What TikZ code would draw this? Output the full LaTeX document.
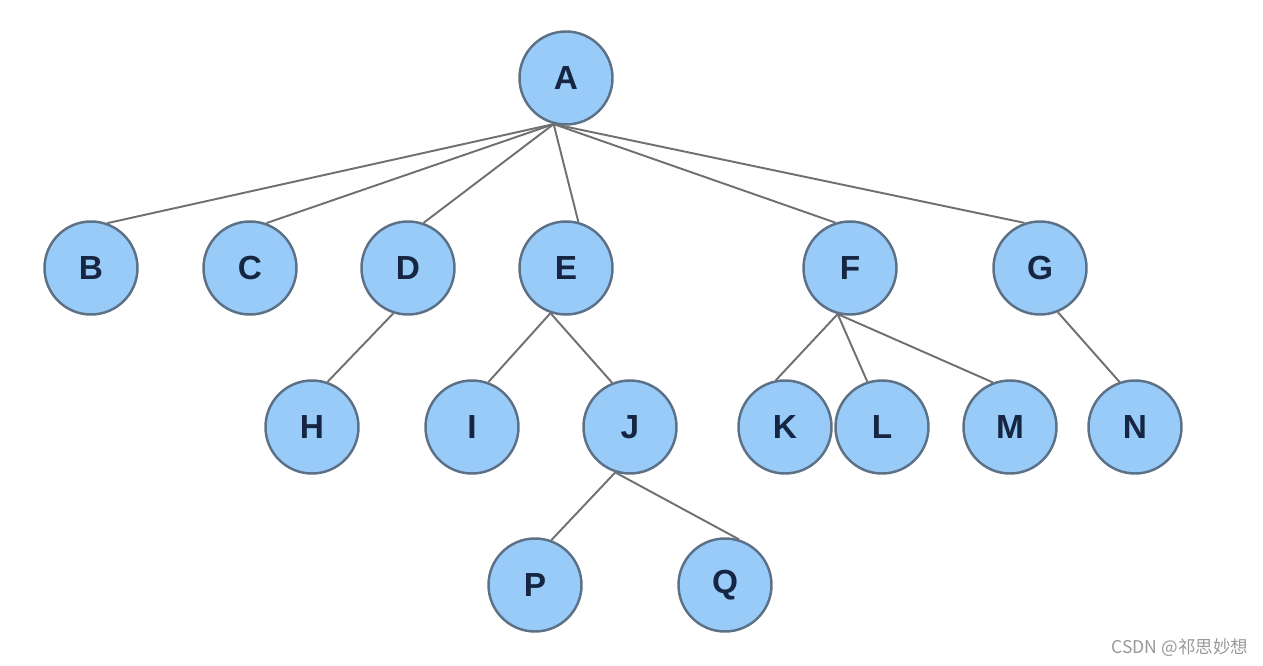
\documentclass[tikz,border=0pt]{standalone}
\usepackage{fontspec}
\setmainfont{Liberation Sans}
\newfontfamily\cjk{Noto Sans CJK SC}
\definecolor{knotfill}{RGB}{153,203,249}
\definecolor{knotline}{RGB}{92,112,134}
\definecolor{knottext}{RGB}{22,38,66}
\definecolor{edgegray}{RGB}{112,112,112}
\tikzset{
	knot/.style={circle, draw=knotline, line width=1.4pt, fill=knotfill, minimum size=1.86cm, inner sep=0pt,
		text=knottext, font=\fontsize{19}{23}\selectfont\bfseries}
}
\begin{document}
\begin{tikzpicture}[node distance=3.8cm, color=edgegray, line width=1.1pt]
			\useasboundingbox (0,0) rectangle (25.26,-13.32);
			\node(A)	[knot] at (11.32,-1.56)			{A};
			\node(E)	[knot, below of=A]			{E};
			\node(D)	[knot, left of=E, node distance=3.16cm]		{D};
			\node(C)	[knot, left of=D, node distance=3.16cm]		{C};
			\node(B)	[knot, left of=C, node distance=3.18cm]		{B};
			\node(F)	[knot, right of=E, node distance=5.68cm]	{F};
			\node(G)	[knot, right of=F]				{G};
			\node(I)	[knot, below of=E, xshift=-1.88cm, node distance=3.18cm]	{I};
			\node(H)	[knot, left of=I, node distance=3.2cm]		{H};
			\node(J)	[knot, right of=I, node distance=3.16cm]	{J};
			\node(K)	[knot, right of=J, node distance=3.1cm]		{K};
			\node(L)	[knot, right of=K, node distance=1.94cm]	{L};
			\node(M)	[knot, right of=L, node distance=2.56cm]	{M};
			\node(N)	[knot, right of=M, node distance=2.5cm]		{N};
			\node(P)	[knot, below of=J, xshift=-1.9cm, node distance=3.16cm]	{P};
			\node(Q)	[knot, right of=P]				{Q};
			\node(mark)	[text=gray!80, font=\cjk\fontsize{10}{12}\selectfont] at (23.6,-12.96)	{CSDN @祁思妙想};
			\draw(A.255)      -- (B.70);
			\draw(A.255)      -- (C.70);
			\draw(A.255)      -- (D.71);
			\draw(A.255)      -- (E.75);
			\draw(A.255)      -- (F.108);
			\draw(A.255)      -- (G.109);
			\draw(D.252)      -- (H.71);
			\draw(E.251)      -- (I.70);
			\draw(E.251)      -- (J.112);
			\draw(F.255)      -- (K.101);
			\draw(F.255)      -- (L.108);
			\draw(F.255)      -- (M.111);
			\draw(G.292)      -- (N.109);
			\draw(J.252)      -- (P.70);
			\draw(J.252)      -- (Q.73);
		\end{tikzpicture}
\end{document}
